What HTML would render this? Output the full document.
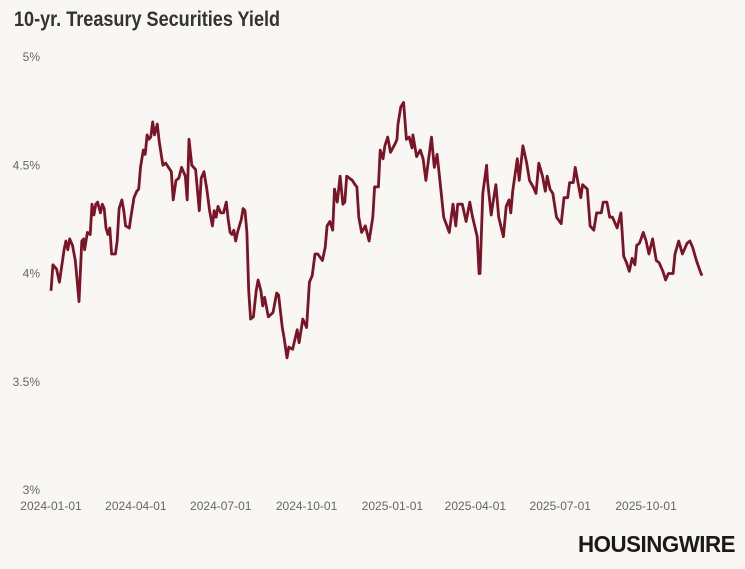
<!DOCTYPE html>
<html><head><meta charset="utf-8">
<style>
body{margin:0;background:#f8f7f4;}
#wrap{position:relative;width:745px;height:569px;background:#f8f7f4;font-family:"Liberation Sans",sans-serif;overflow:hidden;}
#title{position:absolute;left:14px;top:8px;font-size:21px;font-weight:bold;color:#333;transform:scaleX(0.86);transform-origin:left top;white-space:nowrap;}
#logo{position:absolute;left:578px;top:531px;font-size:23px;font-weight:900;color:#1a1a1a;transform:scaleX(0.97);transform-origin:left top;letter-spacing:-0.5px;white-space:nowrap;}
svg text{font-family:"Liberation Sans",sans-serif;font-size:12px;fill:#666;}
</style></head>
<body>
<div id="wrap">
<div id="title">10-yr. Treasury Securities Yield</div>
<svg id="chart" width="745" height="569" style="position:absolute;left:0;top:0"></svg>
<div id="logo">HOUSINGWIRE</div>
</div>
<script>
const days = [0,2,6,9,14,16,18,20,23,26,28,30,33,35,36,39,42,44,46,48,50,53,55,57,59,61,63,65,69,71,73,76,78,80,84,86,89,92,94,96,99,101,103,105,107,109,111,114,116,120,123,126,129,131,134,137,140,144,146,148,151,155,159,161,164,167,170,173,175,177,179,182,185,188,190,192,194,196,198,200,204,206,208,210,212,214,217,220,222,225,227,229,233,238,242,244,248,250,253,255,259,264,266,270,274,277,280,283,286,291,294,296,299,302,304,307,310,313,315,317,323,326,328,330,333,337,341,345,347,351,353,356,358,361,364,369,371,372,375,378,381,384,387,388,392,396,399,402,404,408,411,414,417,421,427,431,434,436,441,445,449,452,457,459,460,463,467,468,472,474,477,480,485,488,491,493,495,500,502,506,510,513,517,520,523,527,530,532,535,538,542,547,550,554,556,560,562,565,568,570,575,578,582,585,590,592,596,599,602,607,611,614,617,620,623,626,628,631,635,638,641,645,649,652,656,659,662,667,669,673,677,682,685,688,692,696,698];
const yields = [3.92,4.04,4.02,3.96,4.11,4.15,4.11,4.16,4.13,4.06,3.97,3.87,4.15,4.16,4.11,4.19,4.18,4.32,4.27,4.32,4.33,4.28,4.32,4.30,4.21,4.18,4.21,4.09,4.09,4.15,4.30,4.34,4.29,4.22,4.21,4.27,4.35,4.38,4.39,4.49,4.57,4.55,4.64,4.62,4.63,4.70,4.64,4.69,4.61,4.50,4.51,4.49,4.47,4.34,4.43,4.44,4.49,4.45,4.34,4.62,4.50,4.48,4.29,4.44,4.47,4.39,4.29,4.22,4.29,4.26,4.31,4.28,4.28,4.33,4.25,4.19,4.18,4.20,4.15,4.19,4.25,4.30,4.29,4.19,3.92,3.79,3.80,3.92,3.97,3.92,3.85,3.89,3.80,3.82,3.91,3.90,3.75,3.70,3.61,3.66,3.65,3.74,3.68,3.79,3.75,3.96,3.99,4.09,4.09,4.06,4.12,4.22,4.24,4.20,4.39,4.33,4.45,4.32,4.33,4.45,4.43,4.41,4.40,4.26,4.19,4.22,4.15,4.26,4.40,4.40,4.57,4.53,4.59,4.63,4.56,4.60,4.62,4.69,4.77,4.79,4.62,4.63,4.58,4.64,4.54,4.57,4.53,4.43,4.50,4.63,4.49,4.55,4.43,4.26,4.19,4.32,4.22,4.32,4.32,4.24,4.33,4.26,4.17,4.00,4.00,4.37,4.50,4.43,4.27,4.33,4.41,4.26,4.17,4.31,4.34,4.28,4.38,4.53,4.43,4.59,4.51,4.43,4.40,4.37,4.51,4.45,4.38,4.45,4.39,4.37,4.26,4.23,4.35,4.35,4.42,4.42,4.49,4.42,4.35,4.41,4.39,4.22,4.20,4.28,4.28,4.33,4.33,4.26,4.26,4.21,4.28,4.08,4.05,4.01,4.07,4.04,4.13,4.14,4.19,4.15,4.09,4.16,4.06,4.05,4.01,3.97,4.00,4.00,4.09,4.15,4.09,4.14,4.15,4.12,4.06,4.01,3.99];
const yTicks = [3,3.5,4,4.5,5];
const yTickLabels = ["3%","3.5%","4%","4.5%","5%"];
const xTickDays = [0,91,182,274,366,455,546,638];
const xTickLabels = ["2024-01-01","2024-04-01","2024-07-01","2024-10-01","2025-01-01","2025-04-01","2025-07-01","2025-10-01"];

const svg = document.getElementById('chart');
const NS = 'http://www.w3.org/2000/svg';
function xScale(d){ return 51 + d*0.9327; }
function yScale(v){ return 57 + (5 - v)*216.5; }

yTicks.forEach((t,i)=>{
  const tx = document.createElementNS(NS,'text');
  tx.setAttribute('x', 40);
  tx.setAttribute('y', yScale(t)+4);
  tx.setAttribute('text-anchor','end');
  tx.textContent = yTickLabels[i];
  
  
  svg.appendChild(tx);
});
xTickDays.forEach((d,i)=>{
  const tx = document.createElementNS(NS,'text');
  tx.setAttribute('x', xScale(d));
  tx.setAttribute('y', 510);
  tx.setAttribute('text-anchor','middle');
  tx.textContent = xTickLabels[i];
  
  
  svg.appendChild(tx);
});
let dstr = '';
days.forEach((d,i)=>{ dstr += (i?'L':'M') + xScale(d).toFixed(1) + ',' + yScale(yields[i]).toFixed(1); });
const path = document.createElementNS(NS,'path');
path.setAttribute('d', dstr);
path.setAttribute('fill','none');
path.setAttribute('stroke','#7b1426');
path.setAttribute('stroke-width','2.8');
path.setAttribute('stroke-linejoin','round');


svg.appendChild(path);
</script>
</body></html>
